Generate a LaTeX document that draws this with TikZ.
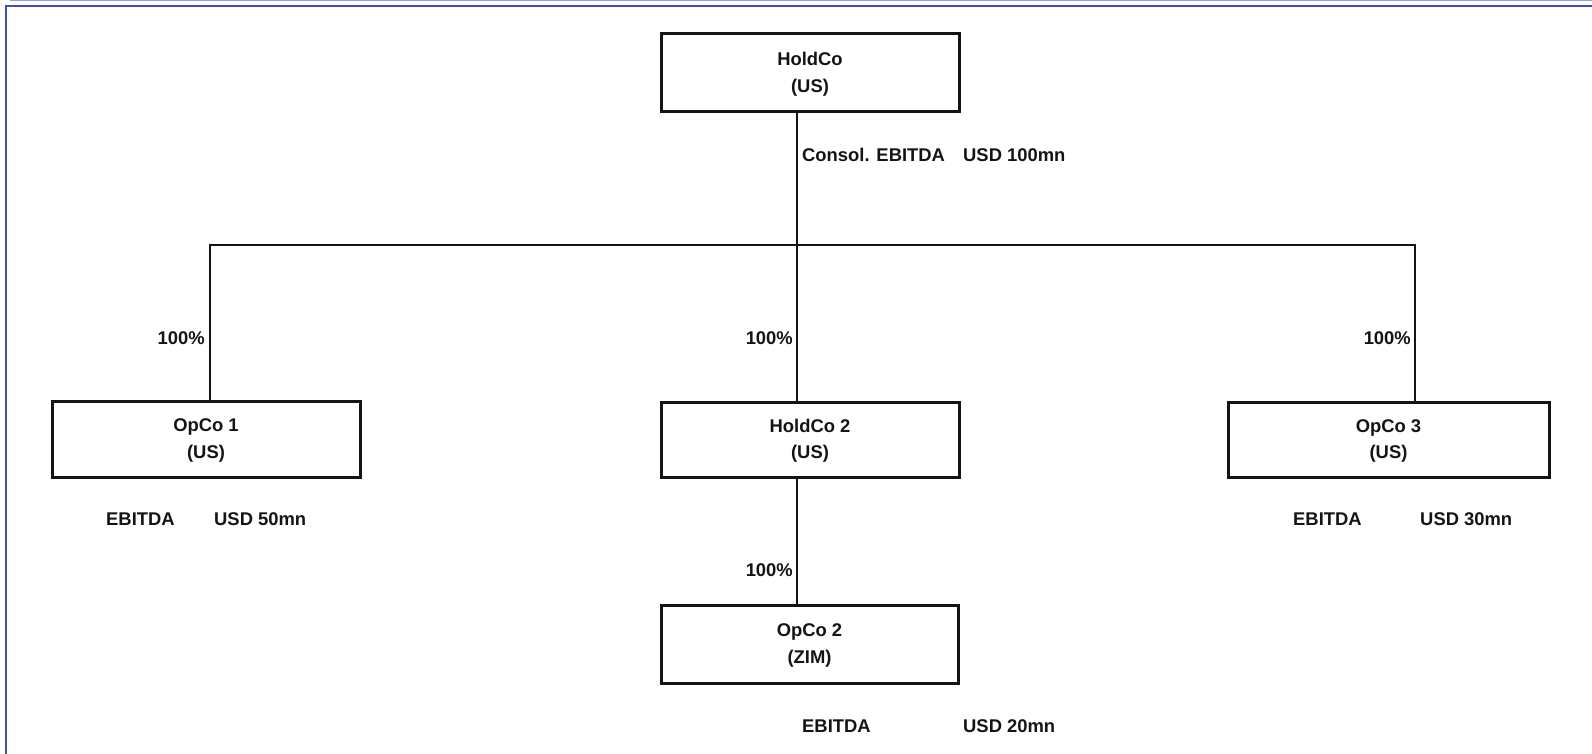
\documentclass[tikz,border=0pt]{standalone}
\usepackage{fontspec}
\setmainfont{Liberation Sans}
\definecolor{frameblue}{RGB}{63,81,181}
\definecolor{framelight}{RGB}{150,162,218}
\definecolor{ink}{RGB}{20,20,20}
\begin{document}
\begin{tikzpicture}[x=1pt,y=-1pt,
  every node/.style={font=\fontsize{18.4}{26.5}\selectfont\bfseries, text=ink, inner sep=0pt},
  entity/.style={draw=ink, line width=3pt, align=center, minimum width=#1},
  link/.style={draw=ink, line width=1.2pt}]
\useasboundingbox (0,0) rectangle (1592,754);
\draw[framelight, line width=1.4pt] (10,0.7) -- (1592,0.7);
\draw[frameblue, line width=2pt] (5.8,754) -- (5.8,5.8) -- (1592,5.8);

\node[entity=298pt, minimum height=78pt] (hold) at (810,73) {\rule{0pt}{16pt}HoldCo\\(US)};
\node[entity=308pt, minimum height=76pt] (op1) at (206,439) {\rule{0pt}{16pt}OpCo 1\\(US)};
\node[entity=298pt, minimum height=75pt] (hold2) at (810,439.5) {\rule{0pt}{16pt}HoldCo 2\\(US)};
\node[entity=321pt, minimum height=75pt] (op3) at (1388.5,439.5) {\rule{0pt}{16pt}OpCo 3\\(US)};
\node[entity=297pt, minimum height=78pt] (op2) at (809.5,644) {\rule{0pt}{16pt}OpCo 2\\(ZIM)};

\coordinate (trunk) at (797,245);
\coordinate (busL) at (210,245);
\coordinate (busR) at (1415,245);

\draw[link] (hold.south -| trunk) -- (hold2.north -| trunk);
\draw[link] (op1.north -| busL) -- (busL) -- (busR) -- (op3.north -| busR);
\draw[link] (hold2.south -| trunk) -- (op2.north -| trunk);

\node[anchor=west] (cons) at (802,155) {Consol. EBITDA};
\node[anchor=west] (cons2) at (963,155) {USD 100mn};

\node[anchor=east] (p1) at (205,338) {100\%};
\node[anchor=east] (p2) at (793,338) {100\%};
\node[anchor=east] (p3) at (1411,338) {100\%};
\node[anchor=east] (p4) at (793,570) {100\%};

\node[anchor=west] (e1) at (106,519) {EBITDA};
\node[anchor=west] (v1) at (214,519) {USD 50mn};
\node[anchor=west] (e3) at (1293,519) {EBITDA};
\node[anchor=west] (v3) at (1420,519) {USD 30mn};
\node[anchor=west] (e2) at (802,726) {EBITDA};
\node[anchor=west] (v2) at (963,726) {USD 20mn};
\end{tikzpicture}
\end{document}
